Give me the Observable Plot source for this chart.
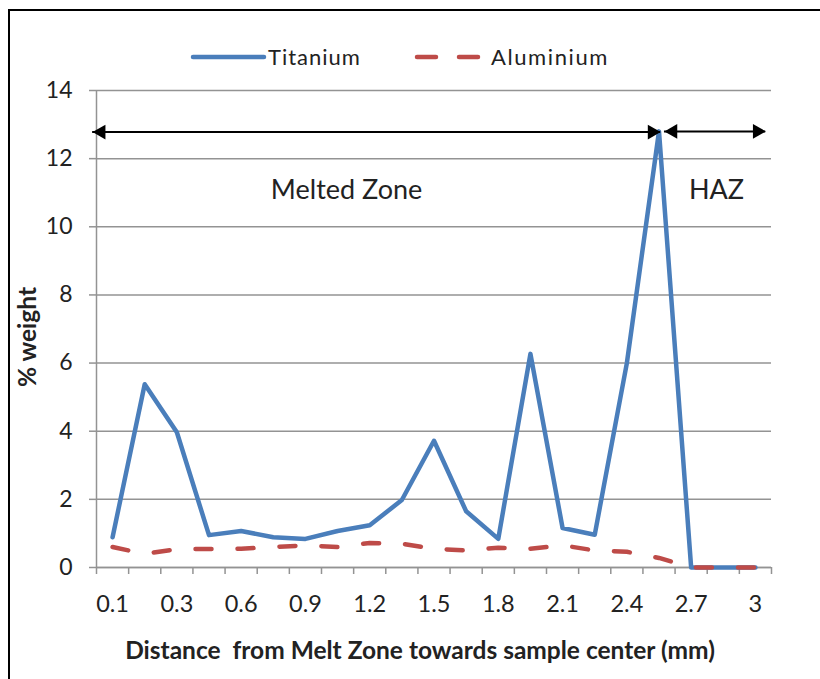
<!DOCTYPE html>
<html>
<head>
<meta charset="utf-8">
<script src="https://cdn.jsdelivr.net/npm/d3@7"></script>
<script src="https://cdn.jsdelivr.net/npm/@observablehq/plot@0.6"></script>
<style>
  html, body { margin: 0; padding: 0; background: #fff; }
  #wrap { position: relative; width: 820px; height: 679px; overflow: hidden; font-family: Lato, "Open Sans", sans-serif; }
  #border { position: absolute; left: 8px; top: 9px; width: 900px; height: 800px; border-left: 2px solid #000; border-top: 2px solid #000; }
  #chart { position: absolute; left: 0; top: 0; }
  .leg { position: absolute; top: 44px; font-size: 22px; color: #222; letter-spacing: 1px; line-height: 26px; }
  .sw { position: absolute; top: 0; }
</style>
</head>
<body>
<div id="wrap">
  <div id="border"></div>
  <div id="chart"></div>
  <svg class="sw" width="820" height="80" style="left:0;top:0;position:absolute">
    <line x1="193" y1="57" x2="264" y2="57" stroke="#4A7EBB" stroke-width="4.5" stroke-linecap="round"/>
    <line x1="417" y1="57" x2="436" y2="57" stroke="#BE4B48" stroke-width="4.5" stroke-linecap="round"/>
    <line x1="459" y1="57" x2="478" y2="57" stroke="#BE4B48" stroke-width="4.5" stroke-linecap="round"/>
  </svg>
  <div class="leg" id="legTi" style="left:268px">Titanium</div>
  <div class="leg" id="legAl" style="left:491px;letter-spacing:1.6px">Aluminium</div>
</div>
<script>
// ---- data ----
const distance = [0.1, 0.2, 0.3, 0.45, 0.6, 0.75, 0.9, 1.05, 1.2, 1.35, 1.5, 1.65, 1.8, 1.95, 2.1, 2.25, 2.4, 2.55, 2.7, 2.85, 3];
const titanium = [0.89, 5.38, 3.97, 0.95, 1.07, 0.89, 0.84, 1.07, 1.24, 1.98, 3.72, 1.65, 0.84, 6.27, 1.16, 0.96, 6.0, 12.8, 0, 0, 0];
const aluminium = [0.6, 0.4, 0.54, 0.54, 0.55, 0.6, 0.65, 0.6, 0.72, 0.7, 0.55, 0.5, 0.58, 0.55, 0.65, 0.5, 0.46, 0.28, 0, 0, 0];
const yTicks = [0, 2, 4, 6, 8, 10, 12, 14];
const xTickLabels = ["0.1", "0.3", "0.6", "0.9", "1.2", "1.5", "1.8", "2.1", "2.4", "2.7", "3"];
const zoneNames = ["Melted Zone", "HAZ"];
const zoneX = [7.28, 18.79];
const zoneY = [11.07, 11.07];
const arrowFrom = [-0.62, 17.17];
const arrowTo = [17.05, 20.32];
const arrowY = [12.78, 12.8];
const xTitle = "Distance  from Melt Zone towards sample center (mm)";
const yTitle = "% weight";

// ---- tables built from the arrays ----
const rows = distance.map((d, i) => ({i, d, ti: titanium[i], al: aluminium[i]}));
const labelIdx = distance.map((d, i) => i).filter(i => xTickLabels.includes(String(distance[i])));
const boundaries = d3.range(distance.length + 1).map(k => k - 0.5);
const zones = zoneNames.map((name, k) => ({name, x: zoneX[k], y: zoneY[k]}));
const arrows = arrowFrom.map((x1, k) => ({x1, x2: arrowTo[k], y: arrowY[k]}));

const blue = "#4A7EBB", red = "#BE4B48", grid = "#939393", ink = "#222";

const chart = Plot.plot({
  width: 820,
  height: 679,
  marginLeft: 96,
  marginRight: 49,
  marginTop: 90,
  marginBottom: 112,
  style: {fontFamily: "Lato, 'Open Sans', sans-serif", background: "transparent", color: ink},
  x: {type: "linear", domain: [-0.5, distance.length - 0.5]},
  y: {type: "linear", domain: [0, 14]},
  marks: [
    Plot.gridY({ticks: yTicks, stroke: grid, strokeOpacity: 1, strokeWidth: 1.5}),
    Plot.ruleX([-0.5], {y1: 0, y2: 14, stroke: grid, strokeWidth: 1.5}),
    Plot.ruleY([0], {stroke: grid, strokeWidth: 1.5}),
    Plot.axisY({ticks: yTicks, tickSize: 7, tickPadding: 17, stroke: grid, strokeWidth: 1.5, fill: ink, fontSize: 23, label: null, tickFormat: d => String(d)}),
    Plot.axisX({ticks: boundaries, tickSize: 7, tickPadding: 0, stroke: grid, strokeWidth: 1.5, tickFormat: () => "", label: null}),
    Plot.axisX({ticks: labelIdx, tickSize: 0, tickPadding: 28, fill: ink, fontSize: 23.5, label: null, tickFormat: i => String(distance[i])}),
    Plot.text([xTitle], {frameAnchor: "bottom", dy: 91, dx: -14, fontSize: 24.5, fontWeight: "bold", fill: ink}),
    Plot.text([yTitle], {frameAnchor: "left", textAnchor: "middle", dx: -68, dy: 8, rotate: -90, fontSize: 24.5, fontWeight: "bold", fill: ink}),
    Plot.line(rows, {x: "i", y: "ti", stroke: blue, strokeWidth: 4.5, strokeLinejoin: "round", strokeLinecap: "round"}),
    Plot.line(rows, {x: "i", y: "al", stroke: red, strokeWidth: 4.5, strokeDasharray: "16,26", strokeLinecap: "round", strokeLinejoin: "round"}),
    Plot.ruleY(arrows, {y: "y", x1: "x1", x2: "x2", stroke: "#000", strokeWidth: 2}),
    Plot.dot(arrows, {x: "x2", y: "y", symbol: "triangle", r: 5.5, fill: "#000", stroke: null, rotate: 90, dx: -8.5}),
    Plot.dot(arrows, {x: "x1", y: "y", symbol: "triangle", r: 5.5, fill: "#000", stroke: null, rotate: -90, dx: 8.5}),
    Plot.text(zones, {x: "x", y: "y", text: "name", fontSize: 27, fill: ink})
  ]
});
document.getElementById("chart").appendChild(chart);
</script>
</body>
</html>
